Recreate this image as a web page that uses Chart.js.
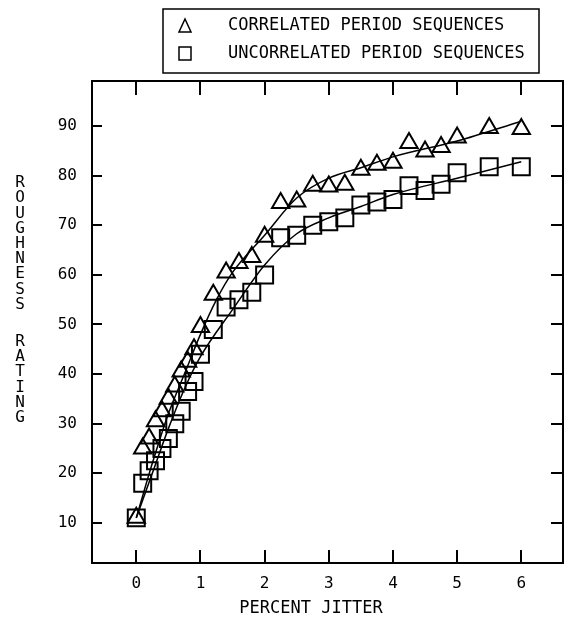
<!DOCTYPE html>
<html>
<head>
<meta charset="utf-8">
<script src="https://cdn.jsdelivr.net/npm/chart.js@4/dist/chart.umd.min.js"></script>
<style>
  body { margin: 0; background: #fff; }
  #wrap { width: 564px; height: 623px; }
</style>
</head>
<body>
<div id="wrap"><canvas id="roughChart" width="564" height="623"></canvas></div>
<script>
// Percent jitter for each measured point
const jitter = [0, 0.1, 0.2, 0.3, 0.4, 0.5, 0.6, 0.7, 0.8, 0.9, 1.0, 1.2, 1.4, 1.6, 1.8, 2.0,
                2.25, 2.5, 2.75, 3.0, 3.25, 3.5, 3.75, 4.0, 4.25, 4.5, 4.75, 5.0, 5.5, 6.0];

// Roughness ratings
const correlated = [11, 25, 27, 30.5, 32.5, 35, 37.5, 40.5, 42.5, 45, 49.5, 56, 60.5, 62.4, 63.6, 67.7,
                    74.5, 74.8, 78, 77.8, 78.2, 81.2, 82.2, 82.6, 86.6, 84.9, 85.8, 87.7, 89.6, 89.4];
const uncorrelated = [11, 18, 20.5, 22.5, 25, 27, 30, 32.5, 36.5, 38.5, 44, 49, 53.5, 55, 56.5, 60,
                      67.5, 68, 70, 70.7, 71.5, 74.1, 74.7, 75.2, 78, 77, 78.3, 80.6, 81.8, 81.8];

// Fitted curves
const corrFitX = [0, 0.25, 0.5, 0.75, 1, 1.25, 1.5, 2, 2.5, 3, 3.5, 4, 5, 6];
const corrFitY = [11, 22, 32, 40, 48, 55, 60.5, 68, 75.5, 79.5, 81.6, 83.8, 87, 91];
const uncFitX = [0, 0.25, 0.5, 0.75, 1, 1.5, 2, 2.5, 3, 3.5, 4, 5, 6];
const uncFitY = [11, 20, 29, 37, 43.5, 53, 62, 68.3, 71.5, 73.8, 76.2, 79.5, 82.8];

// Axis ticks
const xTicks = [0, 1, 2, 3, 4, 5, 6];
const yTicks = [10, 20, 30, 40, 50, 60, 70, 80, 90];

const legendLabels = ['CORRELATED PERIOD SEQUENCES', 'UNCORRELATED PERIOD SEQUENCES'];
const yTitle = 'ROUGHNESS RATING';
const xTitle = 'PERCENT JITTER';

const FONT = '"DejaVu Sans Mono", monospace';
const pair = (xs, ys) => xs.map((v, i) => ({ x: v, y: ys[i] }));

// Frame, inward ticks, axis titles and boxed legend
const framePlugin = {
    id: 'frame',
    afterDraw(chart) {
        const { ctx, chartArea: a, scales: { x, y } } = chart;
        ctx.save();
        ctx.strokeStyle = '#000';
        ctx.lineWidth = 2;
        ctx.strokeRect(a.left, a.top, a.right - a.left, a.bottom - a.top);
        ctx.beginPath();
        xTicks.forEach(v => {
            const px = Math.round(x.getPixelForValue(v));
            ctx.moveTo(px, a.bottom); ctx.lineTo(px, a.bottom - 13);
            ctx.moveTo(px, a.top); ctx.lineTo(px, a.top + 14);
        });
        yTicks.forEach(v => {
            const py = Math.round(y.getPixelForValue(v));
            ctx.moveTo(a.left, py); ctx.lineTo(a.left + 10, py);
            ctx.moveTo(a.right, py); ctx.lineTo(a.right - 12, py);
        });
        ctx.stroke();

        // stacked y axis title
        ctx.fillStyle = '#000';
        ctx.font = '16px ' + FONT;
        ctx.textAlign = 'center';
        ctx.textBaseline = 'middle';
        let ty = 183;
        for (const ch of yTitle) {
            if (ch !== ' ') ctx.fillText(ch, 20, ty);
            ty += ch === ' ' ? 22 : 15.2;
        }

        // x axis title
        ctx.font = '17px ' + FONT;
        ctx.fillText(xTitle, 311, 609);

        // legend box
        ctx.lineWidth = 1.5;
        ctx.strokeRect(163, 9, 376, 64);
        ctx.textAlign = 'left';
        ctx.fillText(legendLabels[0], 228, 26);
        ctx.fillText(legendLabels[1], 228, 54);
        ctx.beginPath();
        ctx.moveTo(185, 19); ctx.lineTo(191, 32); ctx.lineTo(179, 32); ctx.closePath();
        ctx.rect(179, 47, 12, 13);
        ctx.stroke();
        ctx.restore();
    }
};

new Chart(document.getElementById('roughChart'), {
    type: 'scatter',
    data: {
        datasets: [
            {
                label: legendLabels[0],
                data: pair(jitter, correlated),
                pointStyle: 'triangle',
                pointRadius: 10,
                borderColor: '#000',
                backgroundColor: 'rgba(0,0,0,0)',
                borderWidth: 2
            },
            {
                label: legendLabels[1],
                data: pair(jitter, uncorrelated),
                pointStyle: 'rect',
                pointRadius: 12,
                borderColor: '#000',
                backgroundColor: 'rgba(0,0,0,0)',
                borderWidth: 2
            },
            {
                label: 'corr fit',
                data: pair(corrFitX, corrFitY),
                showLine: true,
                pointRadius: 0,
                borderColor: '#000',
                borderWidth: 1.5,
                cubicInterpolationMode: 'monotone'
            },
            {
                label: 'unc fit',
                data: pair(uncFitX, uncFitY),
                showLine: true,
                pointRadius: 0,
                borderColor: '#000',
                borderWidth: 1.5,
                cubicInterpolationMode: 'monotone'
            }
        ]
    },
    options: {
        responsive: false,
        animation: false,
        layout: { autoPadding: false, padding: { top: 81, right: 1, left: 0, bottom: 0 } },
        plugins: {
            legend: { display: false },
            tooltip: { enabled: false }
        },
        scales: {
            x: {
                min: -0.69,
                max: 6.65,
                afterBuildTicks: s => { s.ticks = xTicks.map(v => ({ value: v })); },
                afterFit: s => { s.height = 60; },
                grid: { display: false, drawTicks: false },
                border: { display: false },
                ticks: {
                    color: '#000',
                    padding: 11,
                    font: { family: FONT, size: 16 }
                }
            },
            y: {
                min: 1.9,
                max: 99.1,
                afterBuildTicks: s => { s.ticks = yTicks.map(v => ({ value: v })); },
                afterFit: s => { s.width = 92; },
                grid: { display: false, drawTicks: false },
                border: { display: false },
                ticks: {
                    color: '#000',
                    padding: 15,
                    font: { family: FONT, size: 16 }
                }
            }
        }
    },
    plugins: [framePlugin]
});
</script>
</body>
</html>
